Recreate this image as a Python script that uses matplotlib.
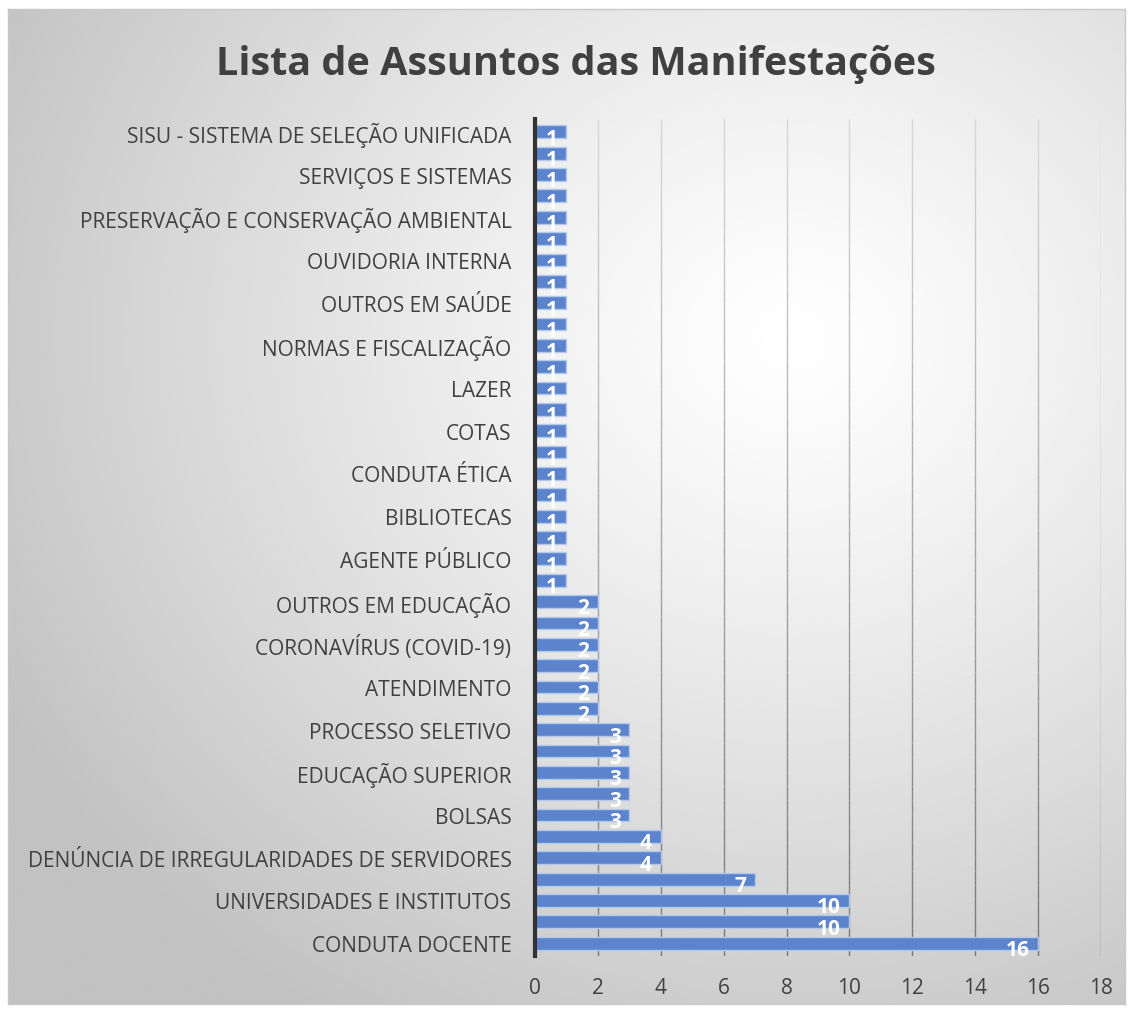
import matplotlib
matplotlib.use('Agg')
import numpy as np
import matplotlib.pyplot as plt
from matplotlib.collections import LineCollection

# bottom to top; only every other category name is visible in the original chart
categories = [
    'CONDUTA DOCENTE', '', 'UNIVERSIDADES E INSTITUTOS', '',
    'DENÚNCIA DE IRREGULARIDADES DE SERVIDORES', '', 'BOLSAS', '',
    'EDUCAÇÃO SUPERIOR', '', 'PROCESSO SELETIVO', '', 'ATENDIMENTO', '',
    'CORONAVÍRUS (COVID-19)', '', 'OUTROS EM EDUCAÇÃO', '', 'AGENTE PÚBLICO', '',
    'BIBLIOTECAS', '', 'CONDUTA ÉTICA', '', 'COTAS', '', 'LAZER', '',
    'NORMAS E FISCALIZAÇÃO', '', 'OUTROS EM SAÚDE', '', 'OUVIDORIA INTERNA', '',
    'PRESERVAÇÃO E CONSERVAÇÃO AMBIENTAL', '', 'SERVIÇOS E SISTEMAS', '',
    'SISU - SISTEMA DE SELEÇÃO UNIFICADA',
]
values = [16, 10, 10, 7, 4, 4, 3, 3, 3, 3, 3, 2, 2, 2, 2, 2, 2] + [1] * 22
title = 'Lista de Assuntos das Manifestações'

plt.rcParams['font.family'] = ['Open Sans', 'DejaVu Sans']

W, H = 1132, 1012
fig = plt.figure(figsize=(W / 100, H / 100), dpi=100)

# radial gradient background of the chart box
bg = fig.add_axes([8 / W, 1 - 1005 / H, 1117 / W, 995 / H])
yy, xx = np.mgrid[0:400, 0:450]
cx, cy = 0.70 * 450, 0.33 * 400
r = np.sqrt(((xx - cx) / 450) ** 2 + ((yy - cy) / 400) ** 2)
shade = 1.0 - 0.24 * np.clip(r / 0.8, 0, 1) ** 1.2
bg.imshow(shade, cmap='gray', vmin=0, vmax=1, aspect='auto', interpolation='bicubic')
bg.set_xticks([])
bg.set_yticks([])
for s in bg.spines.values():
    s.set_color('#c8c8c8')
    s.set_linewidth(1)

ax = fig.add_axes([535 / W, 1 - 957 / H, (1101 - 535) / W, (957 - 120) / H])
ax.patch.set_alpha(0)
y = np.arange(len(values))
ax.barh(y, values, height=0.6, color='#5b84cc', edgecolor='#b4c8ec', linewidth=1, zorder=3)
for yi, v in zip(y, values):
    ax.text(v - 0.28, yi - 0.3, str(v), ha='right', va='center', color='white',
            fontsize=15, fontweight='bold', zorder=4)

ax.set_xlim(0, 18)
ax.set_ylim(-0.6, len(values) - 0.4)

# vertical gridlines: light near the top, darker toward the bottom
ylo, yhi = ax.get_ylim()
steps = np.linspace(ylo, yhi, 60)
segs, cols = [], []
for gx in range(2, 19, 2):
    for a, b in zip(steps[:-1], steps[1:]):
        t = (a - ylo) / (yhi - ylo)
        g = 0.47 + 0.38 * t
        segs.append([(gx, a), (gx, b)])
        cols.append((g, g, g))
ax.add_collection(LineCollection(segs, colors=cols, linewidths=1, zorder=1))

ax.set_xticks(range(0, 19, 2))
ax.set_yticks(y[::2])
ax.set_yticklabels(categories[::2])
ax.tick_params(axis='both', length=0, labelsize=15, colors='#404040')
ax.tick_params(axis='y', pad=17)
ax.tick_params(axis='x', pad=15)
for s in ['top', 'right', 'bottom']:
    ax.spines[s].set_visible(False)
ax.spines['left'].set_color('#333333')
ax.spines['left'].set_linewidth(3)
ax.spines['left'].set_zorder(5)

fig.text(576 / W, 1 - 64 / H, title, ha='center', va='center', fontsize=28.5,
         fontweight='bold', color='#404040')

fig.savefig('out.png', dpi=100, facecolor='white')
